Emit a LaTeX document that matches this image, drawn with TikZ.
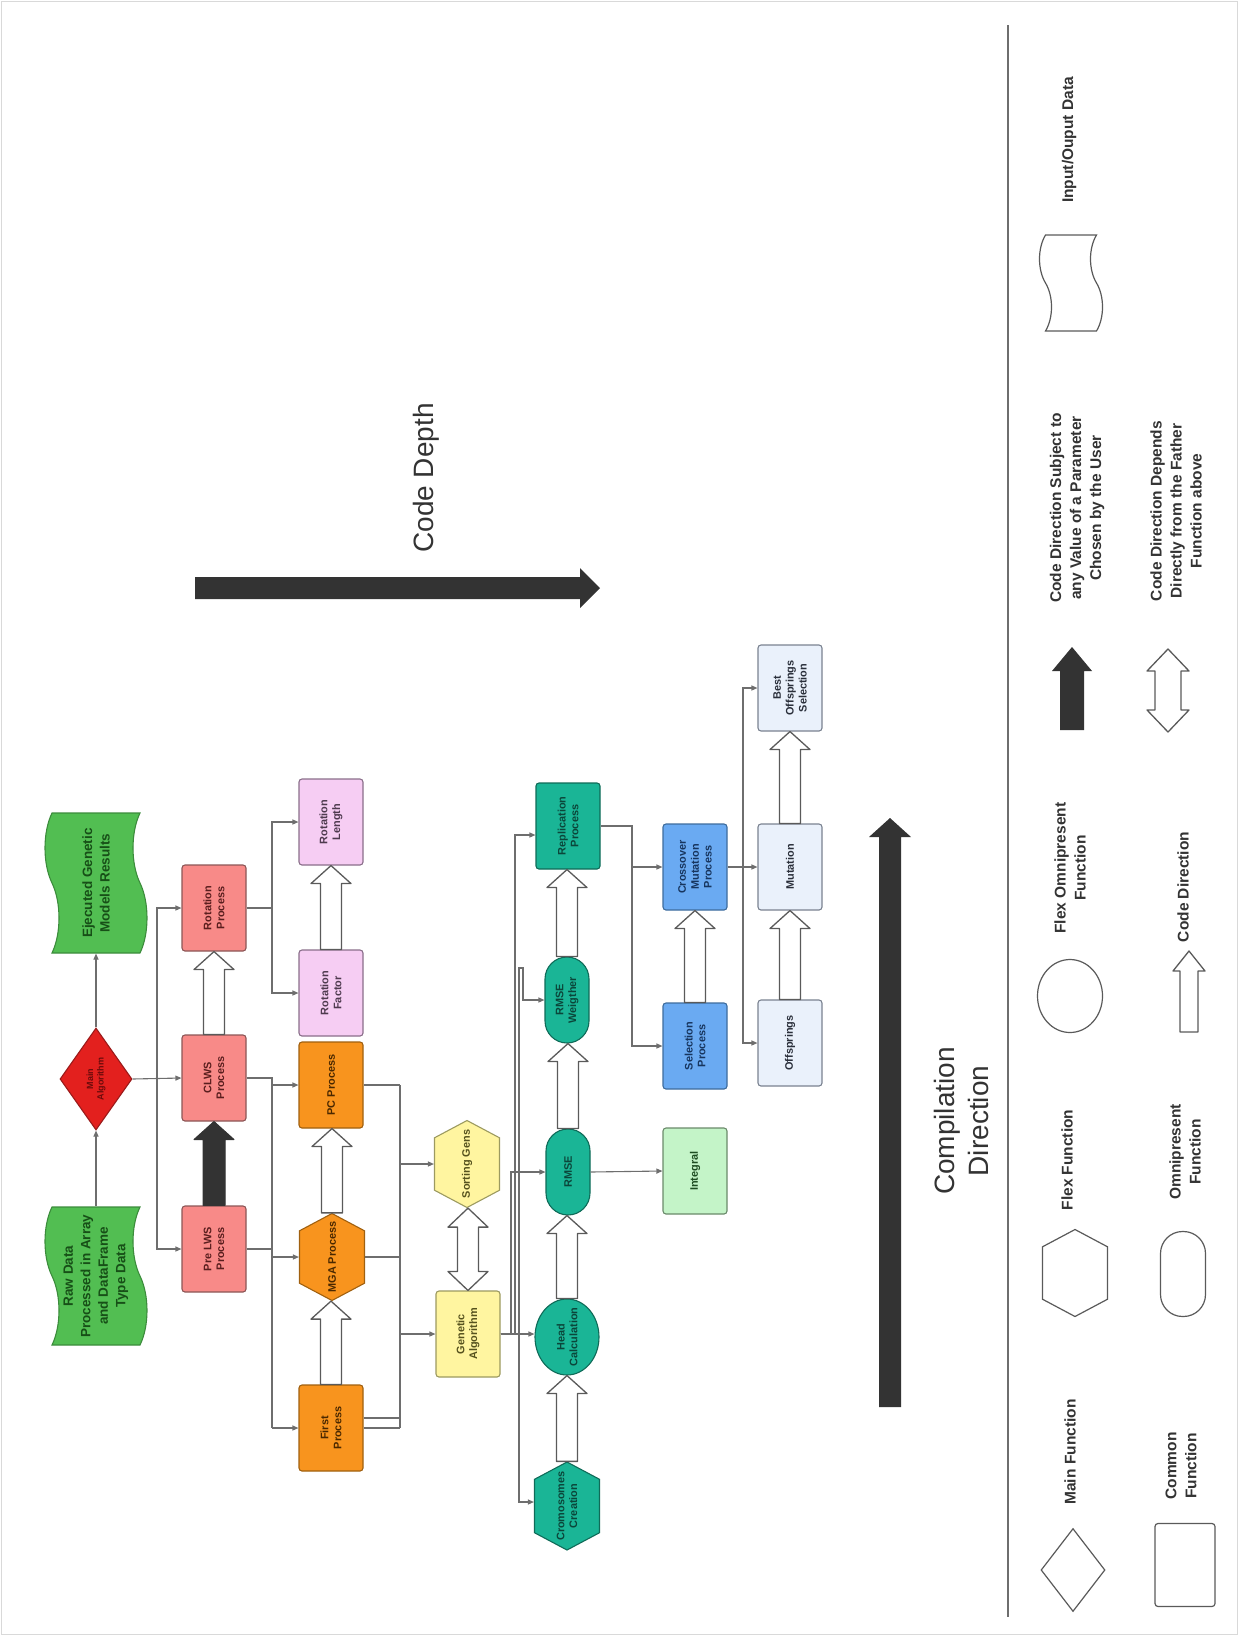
\documentclass[tikz,border=0pt]{standalone}
\usepackage{fontspec}
\setmainfont{Liberation Sans}
\usetikzlibrary{shapes.geometric,shapes.symbols,arrows.meta,calc}

% palette
\definecolor{ink}{HTML}{333333}
\definecolor{wire}{HTML}{6E6E6E}
\definecolor{edge}{HTML}{5A5A5A}
\definecolor{grnF}{HTML}{52BE52}\definecolor{grnD}{HTML}{3C8C3C}\definecolor{grnT}{HTML}{174F17}
\definecolor{redF}{HTML}{E3201E}\definecolor{redD}{HTML}{9A1A1A}\definecolor{redT}{HTML}{6A0B0B}
\definecolor{salF}{HTML}{F88A88}\definecolor{salD}{HTML}{8C5656}\definecolor{salT}{HTML}{5A1E1E}
\definecolor{pnkF}{HTML}{F6CDF3}\definecolor{pnkD}{HTML}{8A6E8A}\definecolor{pnkT}{HTML}{4E3A4E}
\definecolor{orgF}{HTML}{F8941E}\definecolor{orgD}{HTML}{A0600F}\definecolor{orgT}{HTML}{4A2800}
\definecolor{ylwF}{HTML}{FFF5A0}\definecolor{ylwD}{HTML}{9C9A60}\definecolor{ylwT}{HTML}{56521E}
\definecolor{tealF}{HTML}{1AB596}\definecolor{tealD}{HTML}{0F6B58}\definecolor{tealT}{HTML}{0B463A}
\definecolor{bluF}{HTML}{6AAAF2}\definecolor{bluD}{HTML}{3E6C9C}\definecolor{bluT}{HTML}{17355E}
\definecolor{palF}{HTML}{EAF1FB}\definecolor{palD}{HTML}{7A8290}\definecolor{palT}{HTML}{2A2F3A}
\definecolor{lgrF}{HTML}{C4F4C8}\definecolor{lgrD}{HTML}{6A8A6A}\definecolor{lgrT}{HTML}{1E4D22}

% type sizes
\newcommand\dgNode{\fontsize{10.9}{12.8}\selectfont\bfseries}
\newcommand\dgData{\fontsize{13.5}{17.5}\selectfont\bfseries}
\newcommand\dgSmall{\fontsize{9}{10.5}\selectfont\bfseries}
\newcommand\dgLegend{\fontsize{15.5}{20}\selectfont\bfseries}
\newcommand\dgBig{\fontsize{28}{34}\selectfont}
\newcommand\ovr[1]{\makebox[0pt][c]{#1}}

% hollow block arrow from the top of one node to the bottom of another
\newcommand\codearrow[2]{%
  \draw[flowarrow] let \p1=(#1), \p2=(#2) in
    (\x1-10.5pt,\y1) -- (\x1-10.5pt,\y2-18pt) -- (\x1-20pt,\y2-18pt) -- (\x1,\y2)
    -- (\x1+20pt,\y2-18pt) -- (\x1+10.5pt,\y2-18pt) -- (\x1+10.5pt,\y1) -- cycle;}
% solid block arrow
\newcommand\userarrow[2]{%
  \draw[solidarrow] let \p1=(#1), \p2=(#2) in
    (\x1-11pt,\y1) -- (\x1-11pt,\y2-18pt) -- (\x1-20pt,\y2-18pt) -- (\x1,\y2)
    -- (\x1+20pt,\y2-18pt) -- (\x1+11pt,\y2-18pt) -- (\x1+11pt,\y1) -- cycle;}
% hollow two-way block arrow
\newcommand\twowayarrow[2]{%
  \draw[flowarrow] let \p1=(#1), \p2=(#2) in
    (\x1,\y1) -- (\x1+20pt,\y1+19pt) -- (\x1+10.5pt,\y1+19pt) -- (\x1+10.5pt,\y2-19pt)
    -- (\x1+20pt,\y2-19pt) -- (\x1,\y2) -- (\x1-20pt,\y2-19pt) -- (\x1-10.5pt,\y2-19pt)
    -- (\x1-10.5pt,\y1+19pt) -- (\x1-20pt,\y1+19pt) -- cycle;}

\tikzset{
  fn/.style={rotate=90, align=center, font=\dgNode, line width=1.1pt, inner sep=1pt},
  stepbox/.style={fn, rectangle, rounded corners=3pt, minimum width=86pt, minimum height=64pt},
  hexa/.style={fn, signal, signal to=east and west, signal pointer angle=124,
               minimum width=87pt, minimum height=65pt, inner sep=0pt},
  pill/.style={fn, rectangle, rounded corners=22pt, minimum width=86pt, minimum height=44pt},
  oval/.style={fn, ellipse, minimum width=76pt, minimum height=64pt, inner sep=0pt},
  tapebox/.style={fn, tape, tape bend top=in and out, tape bend bottom=in and out, tape bend height=14pt},
  cgrn/.style={draw=grnD, fill=grnF, text=grnT},
  cred/.style={draw=redD, fill=redF, text=redT},
  csal/.style={draw=salD, fill=salF, text=salT},
  cpnk/.style={draw=pnkD, fill=pnkF, text=pnkT},
  corg/.style={draw=orgD, fill=orgF, text=orgT},
  cylw/.style={draw=ylwD, fill=ylwF, text=ylwT},
  ctea/.style={draw=tealD, fill=tealF, text=tealT},
  cblu/.style={draw=bluD, fill=bluF, text=bluT},
  cpal/.style={draw=palD, fill=palF, text=palT},
  clgr/.style={draw=lgrD, fill=lgrF, text=lgrT},
  legshape/.style={draw=edge, fill=white, line width=1.2pt},
  legtext/.style={rotate=90, align=center, font=\dgLegend, text=ink, inner sep=0pt},
  wireline/.style={draw=wire, line width=1.1pt},
  conn/.style={wireline, -{Triangle[length=6pt,width=5pt]}},
  flowarrow/.style={draw=edge, fill=white, line width=1.3pt, line join=round},
  solidarrow/.style={draw=ink, fill=ink, line width=1pt, line join=round},
}

\begin{document}
\begin{tikzpicture}[x=1pt,y=-1pt]
\useasboundingbox (0,0) rectangle (1239,1636);
\draw[gray!30, line width=1pt] (1.5,1.5) rectangle (1237.5,1634.5);

% ---------- data and main function ----------
\node[tapebox, cgrn, minimum width=138pt, minimum height=102pt, font=\dgData] (raw) at (96,1276)
  {Raw Data\\Processed in Array\\and DataFrame\\Type Data};
\node[tapebox, cgrn, minimum width=140pt, minimum height=102pt, font=\dgData] (ejec) at (96,883)
  {Ejecuted Genetic\\Models Results};
\node[fn, diamond, cred, minimum width=102pt, minimum height=72pt, inner sep=0pt, font=\dgSmall] (main) at (96,1079)
  {Main\\Algorithm};

% ---------- LWS level ----------
\node[stepbox, csal] (prelws) at (214,1249) {Pre LWS\\Process};
\node[stepbox, csal] (clws)   at (214,1078) {CLWS\\Process};
\node[stepbox, csal] (rotp)   at (214,908)  {Rotation\\Process};

% ---------- process level ----------
\node[stepbox, corg] (first) at (331,1428) {First\\Process};
\node[hexa, corg]    (mga)   at (332,1257) {\ovr{MGA Process}};
\node[stepbox, corg] (pc)    at (331,1085) {PC Process};
\node[stepbox, cpnk] (rotf)  at (331,993)  {Rotation\\Factor};
\node[stepbox, cpnk] (rotl)  at (331,822)  {Rotation\\Length};

% ---------- genetic level ----------
\node[stepbox, cylw] (ga)   at (468,1334) {Genetic\\Algorithm};
\node[hexa, cylw]    (sort) at (467,1164) {\ovr{Sorting Gens}};

\node[hexa, ctea, minimum width=88pt] (crom) at (567,1506) {\ovr{Cromosomes}\\\ovr{Creation}};
\node[oval, ctea]    (head)  at (567,1337) {\ovr{Head}\\\ovr{Calculation}};
\node[pill, ctea]    (rmse)  at (568,1172) {RMSE};
\node[pill, ctea]    (rmsew) at (567,1000) {RMSE\\Weigther};
\node[stepbox, ctea] (repl)  at (568,826)  {Replication\\Process};

\node[stepbox, clgr] (integral) at (695,1171) {Integral};
\node[stepbox, cblu] (sel)      at (695,1046) {Selection\\Process};
\node[stepbox, cblu] (cross)    at (695,867)  {Crossover\\Mutation\\Process};

\node[stepbox, cpal] (off)  at (790,1043) {Offsprings};
\node[stepbox, cpal] (mut)  at (790,867)  {Mutation};
\node[stepbox, cpal] (best) at (790,688)  {Best\\Offsprings\\Selection};

% ---------- bus positions ----------
\coordinate (busA) at (157,0);
\coordinate (busB) at (272,0);
\coordinate (busC) at (400,0);
\coordinate (gaR1) at (511,0);
\coordinate (gaR2) at (515,0);
\coordinate (gaR3) at (519,0);
\coordinate (gaR4) at (523,0);
\coordinate (jog)  at (0,968);
\coordinate (busE) at (632,0);
\coordinate (busF) at (743,0);
\coordinate (fst1) at ($(first.south)+(0,-10)$);
\coordinate (replIn) at ($(repl.north)+(0,9)$);
\coordinate (cromIn) at ($(crom.north)+(0,-4)$);

% ---------- connectors ----------
\draw[conn] (raw.east) -- (main.west);
\draw[conn] (main.east) -- (ejec.west);
\draw[conn] (main.south) -- (clws.north);
\draw[conn] (busA |- main.south) |- (prelws.north);
\draw[conn] (busA |- main.south) |- (rotp.north);

\draw[conn] (clws.south) -- (busB |- clws.south) |- (pc.north);
\draw[wireline] (prelws.south) -- (busB |- prelws.south);
\draw[wireline] (busB |- clws.south) -- (busB |- first.north);
\draw[conn] (busB |- mga.north) -- (mga.north);
\draw[conn] (busB |- first.north) -- (first.north);
\draw[conn] (rotp.south) -- (busB |- rotp.south) |- (rotf.north);
\draw[conn] (busB |- rotp.south) |- (rotl.north);

\draw[wireline] (pc.south) -- (busC |- pc.south);
\draw[wireline] (mga.south) -- (busC |- mga.south);
\draw[wireline] (fst1) -- (busC |- fst1);
\draw[wireline] (first.south) -- (busC |- first.south);
\draw[wireline] (busC |- pc.south) -- (busC |- first.south);
\draw[conn] (busC |- sort.north) -- (sort.north);
\draw[conn] (busC |- ga.north) -- (ga.north);

\draw[conn] (ga.south) -- (ga.south -| head.north);
\draw[conn] (ga.south) -- (gaR1 |- ga.south) |- (rmse.north);
\draw[conn] (ga.south) -- (gaR2 |- ga.south) |- (replIn);
\draw[conn] (ga.south) -- (gaR3 |- ga.south) -- (gaR3 |- jog) -- (gaR4 |- jog) |- (rmsew.north);
\draw[conn] (ga.south) -- (gaR3 |- ga.south) |- (cromIn);

\draw[conn] (rmse.south) -- (integral.north);
\draw[conn] (repl.south) -- (busE |- repl.south) |- (cross.north);
\draw[conn] (busE |- repl.south) |- (sel.north);
\draw[conn] (cross.south) -- (mut.north);
\draw[conn] (busF |- cross.south) |- (best.north);
\draw[conn] (busF |- cross.south) |- (off.north);

% ---------- block arrows ----------
\userarrow{prelws.east}{clws.west}
\codearrow{clws.east}{rotp.west}
\codearrow{first.east}{mga.west}
\codearrow{mga.east}{pc.west}
\codearrow{rotf.east}{rotl.west}
\twowayarrow{ga.east}{sort.west}
\codearrow{crom.east}{head.west}
\codearrow{head.east}{rmse.west}
\codearrow{rmse.east}{rmsew.west}
\codearrow{rmsew.east}{repl.west}
\codearrow{sel.east}{cross.west}
\codearrow{off.east}{mut.west}
\codearrow{mut.east}{best.west}

% ---------- axes ----------
\fill[ink] (195,577) -- (580,577) -- (580,568) -- (600,588) -- (580,608) -- (580,599) -- (195,599) -- cycle;
\node[rotate=90, font=\dgBig, text=ink, inner sep=0pt] (depthlbl) at (426,478) {Code Depth};
\fill[ink] (879,1407) -- (879,837) -- (869,837) -- (890,818) -- (911,837) -- (901,837) -- (901,1407) -- cycle;
\node[rotate=90, font=\dgBig, text=ink, align=center, inner sep=0pt] (complbl) at (961,1121) {Compilation\\Direction};

% ---------- legend ----------
\draw[draw=wire, line width=1.5pt] (1008,25) -- (1008,1617);

\node[fn, diamond, legshape, minimum width=83pt, minimum height=64pt, inner sep=0pt] (lgmain) at (1073,1570) {};
\node[legtext] (lgmaint) at (1070,1452) {Main Function};
\node[fn, rectangle, legshape, rounded corners=3pt, minimum width=83pt, minimum height=60pt] (lgcommon) at (1185,1565) {};
\node[legtext] (lgcommont) at (1181,1466) {Common\\Function};

\node[hexa, legshape] (lgflex) at (1075,1273) {};
\node[legtext] (lgflext) at (1067,1160) {Flex Function};
\node[pill, legshape, minimum width=85pt, minimum height=45pt] (lgomni) at (1183,1274) {};
\node[legtext] (lgomnit) at (1185,1152) {Omnipresent\\Function};

\node[oval, legshape, minimum width=73pt, minimum height=65pt] (lgfo) at (1070,996) {};
\node[legtext] (lgfot) at (1070,868) {Flex Omnipresent\\Function};
\draw[flowarrow] (1180,1032) -- (1180,971) -- (1173,971) -- (1189,951) -- (1205,971) -- (1198,971) -- (1198,1032) -- cycle;
\node[legtext] (lgcdt) at (1183,887) {Code Direction};

\fill[ink] (1060,730) -- (1060,671) -- (1052,671) -- (1072,647) -- (1092,671) -- (1084,671) -- (1084,730) -- cycle;
\node[legtext] (lgusert) at (1077,508) {Code Direction Subject to\\any Value of a Parameter\\Chosen by the User};
\draw[flowarrow] (1168,649) -- (1189,671) -- (1181,671) -- (1181,710) -- (1189,710) -- (1168,732)
  -- (1147,710) -- (1155,710) -- (1155,671) -- (1147,671) -- cycle;
\node[legtext] (lgfathert) at (1176,511) {Code Direction Depends\\Directly from the Father\\Function above};

\node[tapebox, legshape, minimum width=96pt, minimum height=63pt, tape bend height=12pt] (lgdata) at (1071,283) {};
\node[legtext] (lgdatat) at (1069,140) {Input/Ouput Data};
\end{tikzpicture}
\end{document}
